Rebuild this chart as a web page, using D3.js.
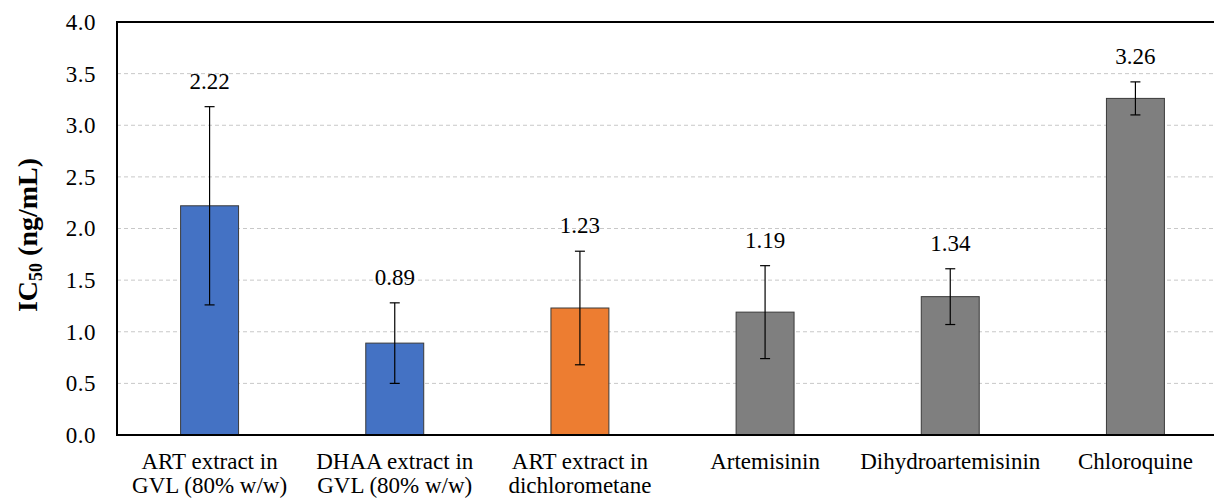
<!DOCTYPE html>
<html lang="en">
<head>
    <meta charset="UTF-8">
    <title>IC50 bar chart</title>
    <script src="https://d3js.org/d3.v7.min.js"></script>
</head>
<style>
    body { margin: 0; background: #fff; }
    .grid line { stroke: #c8c8c8; stroke-dasharray: 4,3; }
</style>
<body>
<script>
    // categories (two-line labels), values, errors, colours
    const categories = [
        ["ART extract in", "GVL (80% w/w)"],
        ["DHAA extract in", "GVL (80% w/w)"],
        ["ART extract in", "dichlorometane"],
        ["Artemisinin"],
        ["Dihydroartemisinin"],
        ["Chloroquine"]
    ];
    const ic50 = [2.22, 0.89, 1.23, 1.19, 1.34, 3.26];
    const errors = [0.96, 0.39, 0.55, 0.45, 0.27, 0.16];
    const barColors = ["#4472C4", "#4472C4", "#ED7D31", "#7F7F7F", "#7F7F7F", "#7F7F7F"];
    const yTicks = [0, 0.5, 1, 1.5, 2, 2.5, 3, 3.5, 4];

    const serif = "'Liberation Serif', 'Times New Roman', 'DejaVu Serif', serif";
    const width = 1214, height = 498;
    const margin = { top: 22, right: -14, bottom: 63, left: 117 };

    const svg = d3.select("body").append("svg")
        .attr("width", width)
        .attr("height", height)
        .style("font-family", serif);

    const x = d3.scaleBand()
        .domain(d3.range(categories.length))
        .range([margin.left, width - margin.right])
        .paddingInner(0.687)
        .paddingOuter(0.3435);

    const y = d3.scaleLinear()
        .domain([0, 4])
        .range([height - margin.bottom, margin.top]);

    // dashed grid lines
    svg.append("g")
        .attr("class", "grid")
        .selectAll("line")
        .data(yTicks.slice(1, -1))
        .join("line")
        .attr("x1", margin.left)
        .attr("x2", width - margin.right)
        .attr("y1", d => y(d))
        .attr("y2", d => y(d));

    // y axis labels
    const yAxis = d3.axisLeft(y)
        .tickValues(yTicks)
        .tickFormat(d3.format(".1f"))
        .tickSize(0)
        .tickPadding(21);
    svg.append("g")
        .attr("transform", `translate(${margin.left},0)`)
        .call(yAxis)
        .attr("font-family", null)
        .attr("font-size", null)
        .call(g => g.select(".domain").remove())
        .call(g => g.selectAll("text")
            .style("font-family", serif)
            .style("font-size", "23px")
            .style("letter-spacing", "0.5px")
            .attr("fill", "#000"));

    // bars
    svg.append("g")
        .selectAll("rect")
        .data(ic50)
        .join("rect")
        .attr("x", (d, i) => x(i))
        .attr("y", d => y(d))
        .attr("width", x.bandwidth())
        .attr("height", d => y(0) - y(d))
        .attr("fill", (d, i) => barColors[i])
        .attr("stroke", "#3a3a3a")
        .attr("stroke-width", 1);

    // error bars
    const err = svg.append("g").attr("stroke", "#000").attr("stroke-width", 1.2);
    ic50.forEach((v, i) => {
        const cx = x(i) + x.bandwidth() / 2;
        const top = y(v + errors[i]), bot = y(v - errors[i]);
        err.append("line").attr("x1", cx).attr("x2", cx).attr("y1", top).attr("y2", bot);
        err.append("line").attr("x1", cx - 5).attr("x2", cx + 5).attr("y1", top).attr("y2", top);
        err.append("line").attr("x1", cx - 5).attr("x2", cx + 5).attr("y1", bot).attr("y2", bot);
    });

    // value labels
    svg.append("g")
        .selectAll("text")
        .data(ic50)
        .join("text")
        .attr("x", (d, i) => x(i) + x.bandwidth() / 2)
        .attr("y", (d, i) => y(d + errors[i]) - 18)
        .attr("text-anchor", "middle")
        .style("font-family", serif)
        .style("font-size", "23px")
        .text(d => d.toFixed(2));

    // plot frame: top, left, bottom
    svg.append("path")
        .attr("d", `M${width - margin.right},${margin.top}H${margin.left}V${y(0)}H${width - margin.right}`)
        .attr("fill", "none")
        .attr("stroke", "#000")
        .attr("stroke-width", 2);

    // category labels
    const catG = svg.append("g");
    categories.forEach((lines, i) => {
        const t = catG.append("text")
            .attr("x", x(i) + x.bandwidth() / 2)
            .attr("y", 469)
            .attr("text-anchor", "middle")
            .style("font-family", serif)
            .style("font-size", "23px");
        lines.forEach((ln, j) => {
            t.append("tspan")
                .attr("x", x(i) + x.bandwidth() / 2)
                .attr("dy", j === 0 ? 0 : 24)
                .text(ln);
        });
    });

    // y axis title with subscript
    const title = svg.append("text")
        .attr("transform", `translate(37,235) rotate(-90)`)
        .attr("text-anchor", "middle")
        .style("font-family", serif)
        .style("font-size", "28px")
        .style("font-weight", "bold");
    title.append("tspan").text("IC");
    title.append("tspan").attr("dy", 5).style("font-size", "18px").text("50");
    title.append("tspan").attr("dy", -5).text(" (ng/mL)");
</script>
</body>
</html>
